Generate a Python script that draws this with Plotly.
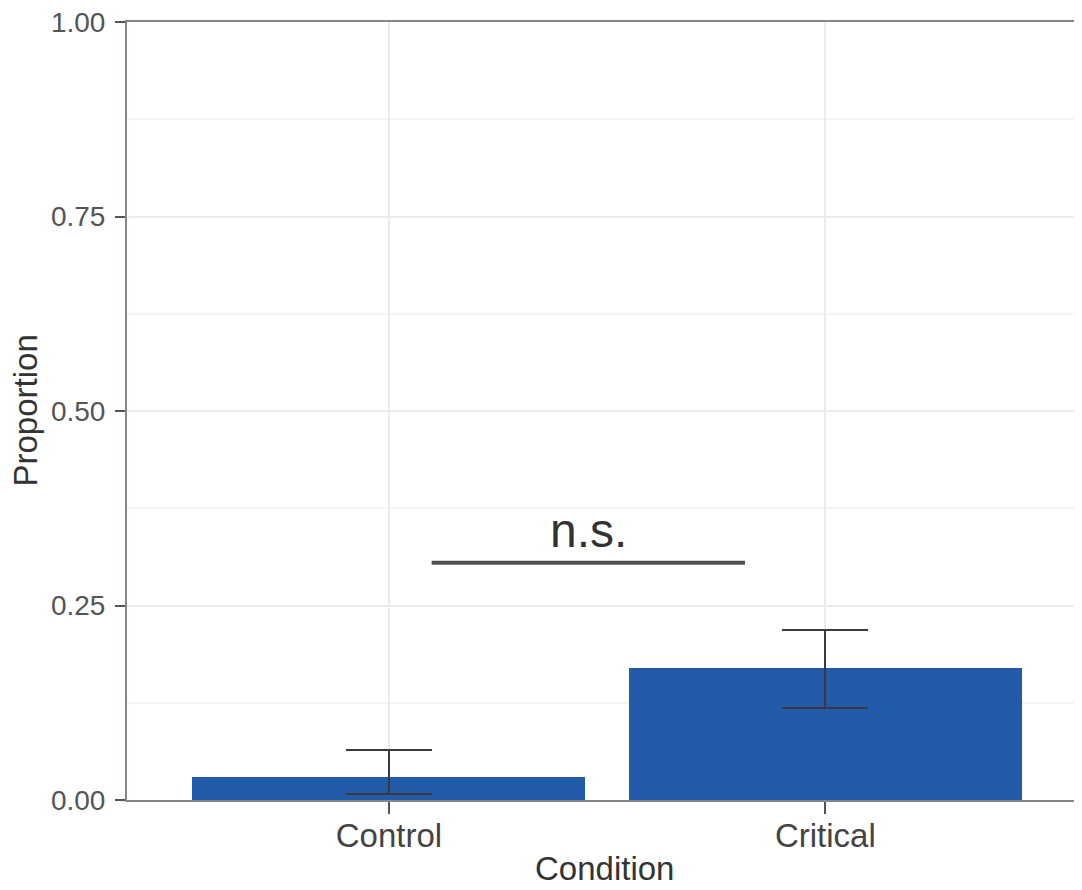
import plotly.graph_objects as go

categories = ["Control", "Critical"]
x_pos = [1, 2]
proportion = [0.030, 0.170]
err_upper = [0.064, 0.219]
err_lower = [0.008, 0.118]
y_tickvals = [0.0, 0.25, 0.5, 0.75, 1.0]
y_ticktext = ["0.00", "0.25", "0.50", "0.75", "1.00"]
sig_x = [1.098, 1.816]
sig_y = 0.305
sig_label = "n.s."

err_plus = [u - p for u, p in zip(err_upper, proportion)]
err_minus = [p - l for p, l in zip(proportion, err_lower)]

FONT = "Liberation Sans, Arial"

fig = go.Figure()
fig.add_trace(go.Bar(
    x=x_pos, y=proportion, width=0.9,
    marker=dict(color="#225BAA", line=dict(width=0)),
    error_y=dict(type="data", symmetric=False, array=err_plus, arrayminus=err_minus,
                 color="#3a3a3a", thickness=2, width=43),
    showlegend=False,
))

fig.add_shape(type="line", x0=sig_x[0], x1=sig_x[1], y0=sig_y, y1=sig_y,
              xref="x", yref="y", line=dict(color="#505050", width=4))
fig.add_annotation(x=(sig_x[0] + sig_x[1]) / 2, y=sig_y, xref="x", yref="y",
                   text=sig_label, showarrow=False, yanchor="bottom", yshift=4,
                   font=dict(family=FONT, size=48, color="#333333"))

# axis titles
fig.add_annotation(x=0.5, y=0, xref="paper", yref="paper", yanchor="top", yshift=-48,
                   text="Condition", showarrow=False,
                   font=dict(family=FONT, size=33, color="#333333"))
fig.add_annotation(x=0, y=0.5, xref="paper", yref="paper", xanchor="right", xshift=-82,
                   text="Proportion", showarrow=False, textangle=-90,
                   font=dict(family=FONT, size=33, color="#333333"))

fig.update_layout(
    width=1074, height=882,
    margin=dict(l=119, r=0, t=14, b=90, autoexpand=False),
    paper_bgcolor="white", plot_bgcolor="white",
    font=dict(family=FONT, color="#444444"),
    bargap=0,
)
fig.update_xaxes(
    range=[0.4, 2.588], tickvals=x_pos, ticktext=categories,
    showgrid=True, gridcolor="#ececec", gridwidth=1.5,
    showline=True, linecolor="#8c8585", linewidth=2, mirror=True,
    ticks="outside", ticklen=12, tickwidth=2, tickcolor="#555555",
    tickfont=dict(size=33, color="#444444"), ticklabelstandoff=-7,
    ticklabeloverflow="allow",
    automargin=False, zeroline=False,
)
fig.update_yaxes(
    range=[0, 1], tickvals=y_tickvals, ticktext=y_ticktext,
    showgrid=True, gridcolor="#ececec", gridwidth=1.5,
    minor=dict(tickvals=[0.125, 0.375, 0.625, 0.875], showgrid=True, gridcolor="#f6f4f2", gridwidth=1.5),
    showline=True, linecolor="#8c8585", linewidth=2,
    ticks="outside", ticklen=10, tickwidth=2, tickcolor="#555555",
    tickfont=dict(size=28, color="#555555"), ticklabelstandoff=4,
    ticklabeloverflow="allow",
    automargin=False, zeroline=False,
)

fig.write_html("out.html")
